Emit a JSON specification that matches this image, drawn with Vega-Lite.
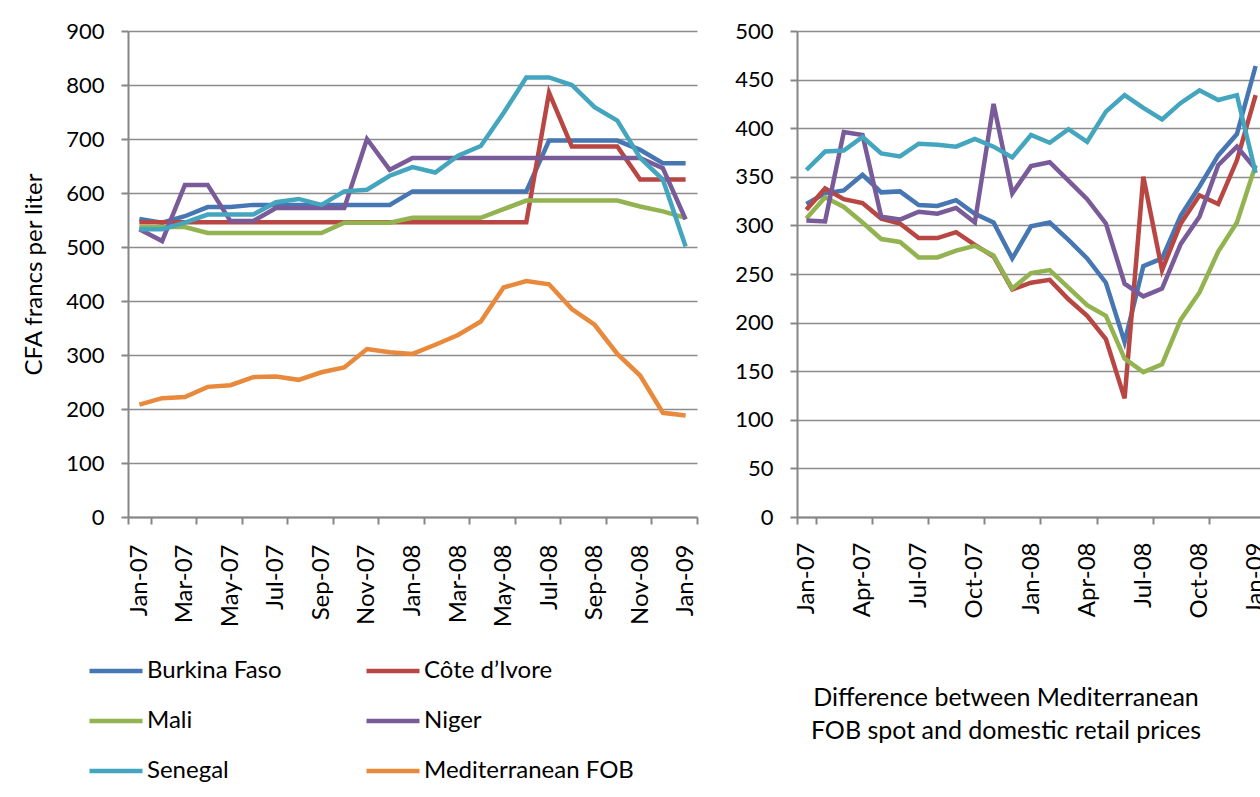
{
"$schema": "https://vega.github.io/schema/vega-lite/v6.json",
"padding": {"left": 22, "top": 20, "right": 0, "bottom": 0},
"background": "white",
"config": {"font": "Lato", "view": {"stroke": null},
 "axis": {"labelFont": "Lato", "labelColor": "#000", "labelFontSize": 22, "domainColor": "#868686", "domainWidth": 2, "tickColor": "#868686", "tickWidth": 2, "gridColor": "#8c8c8c", "gridWidth": 1.6, "titleFont": "Lato", "titleColor": "#000", "titleFontWeight": "normal"}},
"datasets": {
"price": [
{"month":"Jan-07","series":"Burkina Faso","value":552},{"month":"Feb-07","series":"Burkina Faso","value":545},{"month":"Mar-07","series":"Burkina Faso","value":557},{"month":"Apr-07","series":"Burkina Faso","value":574},{"month":"May-07","series":"Burkina Faso","value":574},{"month":"Jun-07","series":"Burkina Faso","value":578},{"month":"Jul-07","series":"Burkina Faso","value":578},{"month":"Aug-07","series":"Burkina Faso","value":578},{"month":"Sep-07","series":"Burkina Faso","value":578},{"month":"Oct-07","series":"Burkina Faso","value":578},{"month":"Nov-07","series":"Burkina Faso","value":578},{"month":"Dec-07","series":"Burkina Faso","value":578},{"month":"Jan-08","series":"Burkina Faso","value":603},{"month":"Feb-08","series":"Burkina Faso","value":603},{"month":"Mar-08","series":"Burkina Faso","value":603},{"month":"Apr-08","series":"Burkina Faso","value":603},{"month":"May-08","series":"Burkina Faso","value":603},{"month":"Jun-08","series":"Burkina Faso","value":603},{"month":"Jul-08","series":"Burkina Faso","value":697},{"month":"Aug-08","series":"Burkina Faso","value":697},{"month":"Sep-08","series":"Burkina Faso","value":697},{"month":"Oct-08","series":"Burkina Faso","value":697},{"month":"Nov-08","series":"Burkina Faso","value":680},{"month":"Dec-08","series":"Burkina Faso","value":655},{"month":"Jan-09","series":"Burkina Faso","value":655},
{"month":"Jan-07","series":"Côte d’Ivore","value":546},{"month":"Feb-07","series":"Côte d’Ivore","value":546},{"month":"Mar-07","series":"Côte d’Ivore","value":546},{"month":"Apr-07","series":"Côte d’Ivore","value":546},{"month":"May-07","series":"Côte d’Ivore","value":546},{"month":"Jun-07","series":"Côte d’Ivore","value":546},{"month":"Jul-07","series":"Côte d’Ivore","value":546},{"month":"Aug-07","series":"Côte d’Ivore","value":546},{"month":"Sep-07","series":"Côte d’Ivore","value":546},{"month":"Oct-07","series":"Côte d’Ivore","value":546},{"month":"Nov-07","series":"Côte d’Ivore","value":546},{"month":"Dec-07","series":"Côte d’Ivore","value":546},{"month":"Jan-08","series":"Côte d’Ivore","value":546},{"month":"Feb-08","series":"Côte d’Ivore","value":546},{"month":"Mar-08","series":"Côte d’Ivore","value":546},{"month":"Apr-08","series":"Côte d’Ivore","value":546},{"month":"May-08","series":"Côte d’Ivore","value":546},{"month":"Jun-08","series":"Côte d’Ivore","value":546},{"month":"Jul-08","series":"Côte d’Ivore","value":786},{"month":"Aug-08","series":"Côte d’Ivore","value":686},{"month":"Sep-08","series":"Côte d’Ivore","value":686},{"month":"Oct-08","series":"Côte d’Ivore","value":686},{"month":"Nov-08","series":"Côte d’Ivore","value":625},{"month":"Dec-08","series":"Côte d’Ivore","value":625},{"month":"Jan-09","series":"Côte d’Ivore","value":625},
{"month":"Jan-07","series":"Mali","value":537},{"month":"Feb-07","series":"Mali","value":537},{"month":"Mar-07","series":"Mali","value":537},{"month":"Apr-07","series":"Mali","value":526},{"month":"May-07","series":"Mali","value":526},{"month":"Jun-07","series":"Mali","value":526},{"month":"Jul-07","series":"Mali","value":526},{"month":"Aug-07","series":"Mali","value":526},{"month":"Sep-07","series":"Mali","value":526},{"month":"Oct-07","series":"Mali","value":545},{"month":"Nov-07","series":"Mali","value":545},{"month":"Dec-07","series":"Mali","value":545},{"month":"Jan-08","series":"Mali","value":554},{"month":"Feb-08","series":"Mali","value":554},{"month":"Mar-08","series":"Mali","value":554},{"month":"Apr-08","series":"Mali","value":554},{"month":"May-08","series":"Mali","value":570},{"month":"Jun-08","series":"Mali","value":586},{"month":"Jul-08","series":"Mali","value":586},{"month":"Aug-08","series":"Mali","value":586},{"month":"Sep-08","series":"Mali","value":586},{"month":"Oct-08","series":"Mali","value":586},{"month":"Nov-08","series":"Mali","value":575},{"month":"Dec-08","series":"Mali","value":566},{"month":"Jan-09","series":"Mali","value":554},
{"month":"Jan-07","series":"Niger","value":533},{"month":"Feb-07","series":"Niger","value":511},{"month":"Mar-07","series":"Niger","value":615},{"month":"Apr-07","series":"Niger","value":615},{"month":"May-07","series":"Niger","value":548},{"month":"Jun-07","series":"Niger","value":548},{"month":"Jul-07","series":"Niger","value":572},{"month":"Aug-07","series":"Niger","value":572},{"month":"Sep-07","series":"Niger","value":572},{"month":"Oct-07","series":"Niger","value":572},{"month":"Nov-07","series":"Niger","value":700},{"month":"Dec-07","series":"Niger","value":643},{"month":"Jan-08","series":"Niger","value":665},{"month":"Feb-08","series":"Niger","value":665},{"month":"Mar-08","series":"Niger","value":665},{"month":"Apr-08","series":"Niger","value":665},{"month":"May-08","series":"Niger","value":665},{"month":"Jun-08","series":"Niger","value":665},{"month":"Jul-08","series":"Niger","value":665},{"month":"Aug-08","series":"Niger","value":665},{"month":"Sep-08","series":"Niger","value":665},{"month":"Oct-08","series":"Niger","value":665},{"month":"Nov-08","series":"Niger","value":665},{"month":"Dec-08","series":"Niger","value":646},{"month":"Jan-09","series":"Niger","value":551},
{"month":"Jan-07","series":"Senegal","value":533},{"month":"Feb-07","series":"Senegal","value":533},{"month":"Mar-07","series":"Senegal","value":545},{"month":"Apr-07","series":"Senegal","value":560},{"month":"May-07","series":"Senegal","value":560},{"month":"Jun-07","series":"Senegal","value":560},{"month":"Jul-07","series":"Senegal","value":583},{"month":"Aug-07","series":"Senegal","value":589},{"month":"Sep-07","series":"Senegal","value":578},{"month":"Oct-07","series":"Senegal","value":603},{"month":"Nov-07","series":"Senegal","value":606},{"month":"Dec-07","series":"Senegal","value":632},{"month":"Jan-08","series":"Senegal","value":648},{"month":"Feb-08","series":"Senegal","value":638},{"month":"Mar-08","series":"Senegal","value":669},{"month":"Apr-08","series":"Senegal","value":687},{"month":"May-08","series":"Senegal","value":748},{"month":"Jun-08","series":"Senegal","value":814},{"month":"Jul-08","series":"Senegal","value":814},{"month":"Aug-08","series":"Senegal","value":800},{"month":"Sep-08","series":"Senegal","value":759},{"month":"Oct-08","series":"Senegal","value":734},{"month":"Nov-08","series":"Senegal","value":665},{"month":"Dec-08","series":"Senegal","value":625},{"month":"Jan-09","series":"Senegal","value":501},
{"month":"Jan-07","series":"Mediterranean FOB","value":208},{"month":"Feb-07","series":"Mediterranean FOB","value":220},{"month":"Mar-07","series":"Mediterranean FOB","value":222},{"month":"Apr-07","series":"Mediterranean FOB","value":241},{"month":"May-07","series":"Mediterranean FOB","value":244},{"month":"Jun-07","series":"Mediterranean FOB","value":259},{"month":"Jul-07","series":"Mediterranean FOB","value":260},{"month":"Aug-07","series":"Mediterranean FOB","value":254},{"month":"Sep-07","series":"Mediterranean FOB","value":268},{"month":"Oct-07","series":"Mediterranean FOB","value":277},{"month":"Nov-07","series":"Mediterranean FOB","value":311},{"month":"Dec-07","series":"Mediterranean FOB","value":305},{"month":"Jan-08","series":"Mediterranean FOB","value":302},{"month":"Feb-08","series":"Mediterranean FOB","value":319},{"month":"Mar-08","series":"Mediterranean FOB","value":337},{"month":"Apr-08","series":"Mediterranean FOB","value":362},{"month":"May-08","series":"Mediterranean FOB","value":425},{"month":"Jun-08","series":"Mediterranean FOB","value":437},{"month":"Jul-08","series":"Mediterranean FOB","value":431},{"month":"Aug-08","series":"Mediterranean FOB","value":385},{"month":"Sep-08","series":"Mediterranean FOB","value":356},{"month":"Oct-08","series":"Mediterranean FOB","value":302},{"month":"Nov-08","series":"Mediterranean FOB","value":262},{"month":"Dec-08","series":"Mediterranean FOB","value":193},{"month":"Jan-09","series":"Mediterranean FOB","value":188}
],
"diff": [
{"month":"Jan-07","series":"Burkina Faso","value":322},{"month":"Feb-07","series":"Burkina Faso","value":333},{"month":"Mar-07","series":"Burkina Faso","value":336},{"month":"Apr-07","series":"Burkina Faso","value":352},{"month":"May-07","series":"Burkina Faso","value":334},{"month":"Jun-07","series":"Burkina Faso","value":335},{"month":"Jul-07","series":"Burkina Faso","value":321},{"month":"Aug-07","series":"Burkina Faso","value":320},{"month":"Sep-07","series":"Burkina Faso","value":326},{"month":"Oct-07","series":"Burkina Faso","value":312},{"month":"Nov-07","series":"Burkina Faso","value":303},{"month":"Dec-07","series":"Burkina Faso","value":266},{"month":"Jan-08","series":"Burkina Faso","value":299},{"month":"Feb-08","series":"Burkina Faso","value":303},{"month":"Mar-08","series":"Burkina Faso","value":285},{"month":"Apr-08","series":"Burkina Faso","value":266},{"month":"May-08","series":"Burkina Faso","value":241},{"month":"Jun-08","series":"Burkina Faso","value":180},{"month":"Jul-08","series":"Burkina Faso","value":258},{"month":"Aug-08","series":"Burkina Faso","value":266},{"month":"Sep-08","series":"Burkina Faso","value":310},{"month":"Oct-08","series":"Burkina Faso","value":340},{"month":"Nov-08","series":"Burkina Faso","value":372},{"month":"Dec-08","series":"Burkina Faso","value":394},{"month":"Jan-09","series":"Burkina Faso","value":464},
{"month":"Jan-07","series":"Côte d’Ivore","value":316},{"month":"Feb-07","series":"Côte d’Ivore","value":338},{"month":"Mar-07","series":"Côte d’Ivore","value":327},{"month":"Apr-07","series":"Côte d’Ivore","value":323},{"month":"May-07","series":"Côte d’Ivore","value":307},{"month":"Jun-07","series":"Côte d’Ivore","value":302},{"month":"Jul-07","series":"Côte d’Ivore","value":287},{"month":"Aug-07","series":"Côte d’Ivore","value":287},{"month":"Sep-07","series":"Côte d’Ivore","value":293},{"month":"Oct-07","series":"Côte d’Ivore","value":280},{"month":"Nov-07","series":"Côte d’Ivore","value":268},{"month":"Dec-07","series":"Côte d’Ivore","value":234},{"month":"Jan-08","series":"Côte d’Ivore","value":241},{"month":"Feb-08","series":"Côte d’Ivore","value":244},{"month":"Mar-08","series":"Côte d’Ivore","value":224},{"month":"Apr-08","series":"Côte d’Ivore","value":207},{"month":"May-08","series":"Côte d’Ivore","value":183},{"month":"Jun-08","series":"Côte d’Ivore","value":122},{"month":"Jul-08","series":"Côte d’Ivore","value":350},{"month":"Aug-08","series":"Côte d’Ivore","value":254},{"month":"Sep-08","series":"Côte d’Ivore","value":302},{"month":"Oct-08","series":"Côte d’Ivore","value":331},{"month":"Nov-08","series":"Côte d’Ivore","value":322},{"month":"Dec-08","series":"Côte d’Ivore","value":367},{"month":"Jan-09","series":"Côte d’Ivore","value":434},
{"month":"Jan-07","series":"Mali","value":307},{"month":"Feb-07","series":"Mali","value":329},{"month":"Mar-07","series":"Mali","value":319},{"month":"Apr-07","series":"Mali","value":303},{"month":"May-07","series":"Mali","value":286},{"month":"Jun-07","series":"Mali","value":283},{"month":"Jul-07","series":"Mali","value":267},{"month":"Aug-07","series":"Mali","value":267},{"month":"Sep-07","series":"Mali","value":274},{"month":"Oct-07","series":"Mali","value":279},{"month":"Nov-07","series":"Mali","value":269},{"month":"Dec-07","series":"Mali","value":235},{"month":"Jan-08","series":"Mali","value":251},{"month":"Feb-08","series":"Mali","value":254},{"month":"Mar-08","series":"Mali","value":236},{"month":"Apr-08","series":"Mali","value":218},{"month":"May-08","series":"Mali","value":207},{"month":"Jun-08","series":"Mali","value":163},{"month":"Jul-08","series":"Mali","value":149},{"month":"Aug-08","series":"Mali","value":157},{"month":"Sep-08","series":"Mali","value":203},{"month":"Oct-08","series":"Mali","value":231},{"month":"Nov-08","series":"Mali","value":273},{"month":"Dec-08","series":"Mali","value":303},{"month":"Jan-09","series":"Mali","value":362},
{"month":"Jan-07","series":"Niger","value":305},{"month":"Feb-07","series":"Niger","value":304},{"month":"Mar-07","series":"Niger","value":396},{"month":"Apr-07","series":"Niger","value":393},{"month":"May-07","series":"Niger","value":309},{"month":"Jun-07","series":"Niger","value":306},{"month":"Jul-07","series":"Niger","value":314},{"month":"Aug-07","series":"Niger","value":312},{"month":"Sep-07","series":"Niger","value":318},{"month":"Oct-07","series":"Niger","value":303},{"month":"Nov-07","series":"Niger","value":425},{"month":"Dec-07","series":"Niger","value":333},{"month":"Jan-08","series":"Niger","value":361},{"month":"Feb-08","series":"Niger","value":365},{"month":"Mar-08","series":"Niger","value":346},{"month":"Apr-08","series":"Niger","value":327},{"month":"May-08","series":"Niger","value":302},{"month":"Jun-08","series":"Niger","value":240},{"month":"Jul-08","series":"Niger","value":227},{"month":"Aug-08","series":"Niger","value":235},{"month":"Sep-08","series":"Niger","value":281},{"month":"Oct-08","series":"Niger","value":309},{"month":"Nov-08","series":"Niger","value":362},{"month":"Dec-08","series":"Niger","value":381},{"month":"Jan-09","series":"Niger","value":358},
{"month":"Jan-07","series":"Senegal","value":357},{"month":"Feb-07","series":"Senegal","value":376},{"month":"Mar-07","series":"Senegal","value":377},{"month":"Apr-07","series":"Senegal","value":391},{"month":"May-07","series":"Senegal","value":374},{"month":"Jun-07","series":"Senegal","value":371},{"month":"Jul-07","series":"Senegal","value":384},{"month":"Aug-07","series":"Senegal","value":383},{"month":"Sep-07","series":"Senegal","value":381},{"month":"Oct-07","series":"Senegal","value":389},{"month":"Nov-07","series":"Senegal","value":381},{"month":"Dec-07","series":"Senegal","value":370},{"month":"Jan-08","series":"Senegal","value":393},{"month":"Feb-08","series":"Senegal","value":385},{"month":"Mar-08","series":"Senegal","value":399},{"month":"Apr-08","series":"Senegal","value":386},{"month":"May-08","series":"Senegal","value":417},{"month":"Jun-08","series":"Senegal","value":434},{"month":"Jul-08","series":"Senegal","value":421},{"month":"Aug-08","series":"Senegal","value":409},{"month":"Sep-08","series":"Senegal","value":426},{"month":"Oct-08","series":"Senegal","value":439},{"month":"Nov-08","series":"Senegal","value":429},{"month":"Dec-08","series":"Senegal","value":434},{"month":"Jan-09","series":"Senegal","value":354}
]
},
"resolve": {"legend": {"color": "independent"}},
"spacing": 100,
"bounds": "flush",
"hconcat": [
{
 "width": 569, "height": 486,
 "data": {"name": "price"},
 "mark": {"type": "line", "strokeWidth": 4.5},
 "encoding": {
  "x": {"field": "month", "type": "ordinal", "bandPosition": 0.5,
   "sort": ["Jan-07","Feb-07","Mar-07","Apr-07","May-07","Jun-07","Jul-07","Aug-07","Sep-07","Oct-07","Nov-07","Dec-07","Jan-08","Feb-08","Mar-08","Apr-08","May-08","Jun-08","Jul-08","Aug-08","Sep-08","Oct-08","Nov-08","Dec-08","Jan-09"],
   "scale": {"type": "band", "paddingInner": 0, "paddingOuter": 0},
   "axis": {"title": null, "values": ["Jan-07","Mar-07","May-07","Jul-07","Sep-07","Nov-07","Jan-08","Mar-08","May-08","Jul-08","Sep-08","Nov-08","Jan-09"], "labelAngle": -90, "labelFontSize": 24, "tickBand": "extent", "tickSize": 7, "labelPadding": 20, "grid": false}},
  "y": {"field": "value", "type": "quantitative", "scale": {"domain": [0, 900]},
   "axis": {"title": "CFA francs per liter", "titleFontSize": 24, "titlePadding": 19, "values": [0,100,200,300,400,500,600,700,800,900], "tickSize": 7, "labelPadding": 17, "grid": true}},
  "color": {"field": "series", "type": "nominal",
   "scale": {"domain": ["Burkina Faso","Côte d’Ivore","Mali","Niger","Senegal","Mediterranean FOB"], "range": ["#4677B2","#B84643","#92B350","#785B98","#44A5BF","#E8893C"]},
   "legend": {"title": null, "orient": "none", "direction": "horizontal", "legendX": -41, "legendY": 611, "columns": 2, "symbolType": "stroke", "symbolSize": 2809, "symbolStrokeWidth": 4.5, "labelFontSize": 24, "labelFont": "Lato", "labelColor": "#000", "labelOffset": 2, "labelLimit": 400, "rowPadding": 9, "columnPadding": 75, "padding": 0}}
 }
},
{
 "width": 468, "height": 486,
 "data": {"name": "diff"},
 "title": {"text": ["Difference between Mediterranean", "FOB spot and domestic retail prices"], "orient": "bottom", "anchor": "middle", "font": "Lato", "fontSize": 25, "fontWeight": "normal", "color": "#000", "offset": 68, "lineHeight": 33, "dx": -25},
 "mark": {"type": "line", "strokeWidth": 4.5},
 "encoding": {
  "x": {"field": "month", "type": "ordinal", "bandPosition": 0.5,
   "sort": ["Jan-07","Feb-07","Mar-07","Apr-07","May-07","Jun-07","Jul-07","Aug-07","Sep-07","Oct-07","Nov-07","Dec-07","Jan-08","Feb-08","Mar-08","Apr-08","May-08","Jun-08","Jul-08","Aug-08","Sep-08","Oct-08","Nov-08","Dec-08","Jan-09"],
   "scale": {"type": "band", "paddingInner": 0, "paddingOuter": 0},
   "axis": {"title": null, "values": ["Jan-07","Apr-07","Jul-07","Oct-07","Jan-08","Apr-08","Jul-08","Oct-08","Jan-09"], "labelAngle": -90, "labelFontSize": 24, "tickBand": "extent", "tickSize": 7, "labelPadding": 18, "grid": false}},
  "y": {"field": "value", "type": "quantitative", "scale": {"domain": [0, 500]},
   "axis": {"title": null, "values": [0,50,100,150,200,250,300,350,400,450,500], "tickSize": 7, "labelPadding": 17, "grid": true}},
  "color": {"field": "series", "type": "nominal", "legend": null}
 }
}
]
}
